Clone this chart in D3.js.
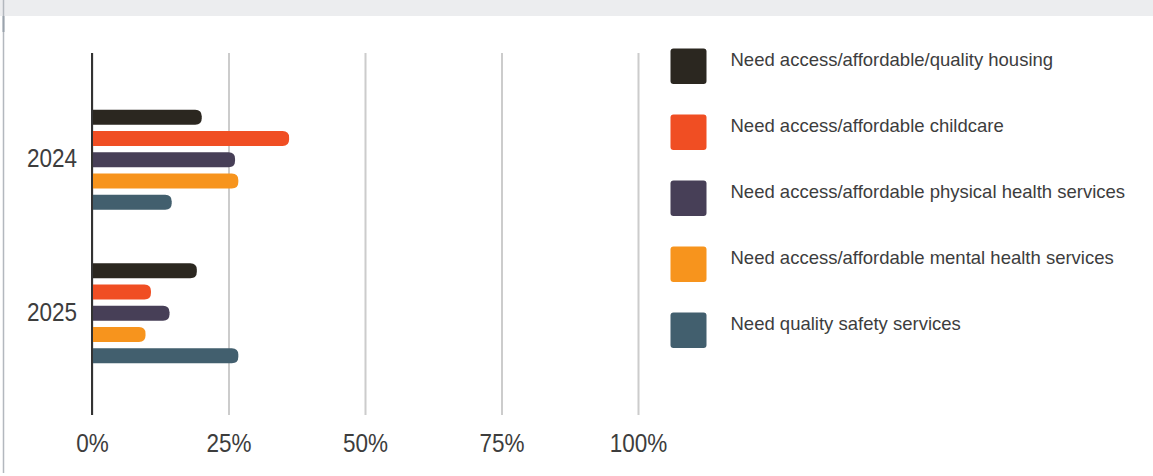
<!DOCTYPE html>
<html>
<head>
<meta charset="utf-8">
<script src="https://cdn.jsdelivr.net/npm/d3@7/dist/d3.min.js"></script>
<style>
  html, body { margin: 0; padding: 0; background: #fff; }
  svg { display: block; }
  text { font-family: "Liberation Sans", Arial, sans-serif; fill: #3d3d3d; }
</style>
</head>
<body>
<svg id="chart" width="1153" height="476"></svg>
<script>
// Survey years shown as bar groups
const years = ["2024", "2025"];

// Needs reported, one series per need
const series = [
  "Need access/affordable/quality housing",
  "Need access/affordable childcare",
  "Need access/affordable physical health services",
  "Need access/affordable mental health services",
  "Need quality safety services"
];

// Share of respondents (%) per series, in the order of `years`
const housing  = [20.1, 19.2];
const childcare = [36.1, 10.8];
const physical = [26.2, 14.2];
const mental   = [26.8, 9.8];
const safety   = [14.6, 26.8];

const seriesValues = [housing, childcare, physical, mental, safety];

const colors = ["#2b2720", "#f04e23", "#473f57", "#f7941d", "#425f6e"];

const tickValues = [0, 25, 50, 75, 100];

const svg = d3.select("#chart");

// Page frame: grey header strip and left border
svg.append("rect").attr("x", 0).attr("y", 0).attr("width", 1153).attr("height", 16).attr("fill", "#ecedef");
svg.append("line").attr("x1", 3.5).attr("x2", 3.5).attr("y1", 0).attr("y2", 473)
  .attr("stroke", "#b3b8be").attr("stroke-width", 1.5);
svg.append("line").attr("x1", 3.5).attr("x2", 3.5).attr("y1", 16).attr("y2", 32)
  .attr("stroke", "#9aa3ac").attr("stroke-width", 2);

const x = d3.scaleLinear().domain([0, 100]).range([92, 638]);
const gridTop = 53, gridBottom = 415;

const y0 = d3.scaleBand().domain(years).range([56.5, 416.5])
  .paddingInner(0.309).paddingOuter(0.327);
const y1 = d3.scaleBand().domain(series).range([0, y0.bandwidth()])
  .paddingInner(0.29).paddingOuter(0.145);

// Vertical gridlines and percent labels
const xAxis = d3.axisBottom(x)
  .tickValues(tickValues)
  .tickSize(-(gridBottom - gridTop))
  .tickFormat(d => d + "%");

const gx = svg.append("g").attr("transform", `translate(0,${gridBottom})`).call(xAxis);
gx.select(".domain").remove();
gx.selectAll(".tick line").attr("stroke", "#cccccc").attr("stroke-width", 2);
gx.selectAll(".tick text").remove();
gx.selectAll(".tick").append("g")
  .attr("transform", `translate(0,${452 - gridBottom}) scale(0.9,1)`)
  .append("text")
  .attr("text-anchor", "middle")
  .attr("font-size", 25)
  .text(d => d + "%");

// Bars with rounded right ends
function barPath(x0, x1v, yTop, h, r) {
  const w = x1v - x0;
  const rr = Math.min(r, w, h / 2);
  return `M${x0},${yTop}H${x1v - rr}Q${x1v},${yTop} ${x1v},${yTop + rr}` +
         `V${yTop + h - rr}Q${x1v},${yTop + h} ${x1v - rr},${yTop + h}H${x0}Z`;
}

const groups = svg.append("g").selectAll("g")
  .data(years)
  .join("g")
  .attr("transform", d => `translate(0,${y0(d)})`);

groups.selectAll("path")
  .data((yr, i) => series.map((s, k) => ({ s, k, v: seriesValues[k][i] })))
  .join("path")
  .attr("d", d => barPath(x(0), x(d.v), y1(d.s), y1.bandwidth(), 6.5))
  .attr("fill", d => colors[d.k]);

// Year labels on the left
const yAxis = d3.axisLeft(y0).tickSize(0);
const gy = svg.append("g").attr("transform", "translate(77,0)").call(yAxis);
gy.select(".domain").remove();
gy.selectAll(".tick text").remove();
gy.selectAll(".tick").append("g")
  .attr("transform", "translate(0,7.5) scale(0.9,1)")
  .append("text")
  .attr("text-anchor", "end")
  .attr("font-size", 25)
  .text(d => d);

// Zero baseline
svg.append("line")
  .attr("x1", x(0)).attr("x2", x(0))
  .attr("y1", gridTop).attr("y2", gridBottom)
  .attr("stroke", "#333333").attr("stroke-width", 2);

// Legend
const legend = svg.append("g").selectAll("g")
  .data(series)
  .join("g")
  .attr("transform", (d, i) => `translate(670.5,${48.5 + i * 66})`);

legend.append("rect")
  .attr("width", 36).attr("height", 35.5)
  .attr("rx", 3).attr("ry", 3)
  .attr("fill", (d, i) => colors[i]);

legend.append("text")
  .attr("x", 60).attr("y", 17.5)
  .attr("font-size", 18.5)
  .attr("fill", "#3a3a3a")
  .text(d => d);
</script>
</body>
</html>
